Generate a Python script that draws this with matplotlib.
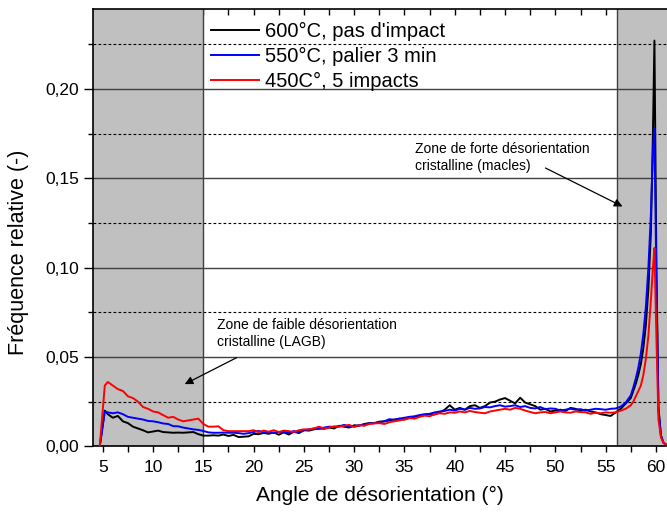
import numpy as np
import matplotlib
matplotlib.use("Agg")
import matplotlib.pyplot as plt
from matplotlib.ticker import MultipleLocator, FuncFormatter

plt.rcParams['font.family'] = ['Liberation Sans', 'DejaVu Sans']

# angle grid (deg): head, 0.5 deg body from 5.5 to 57.5, finer tail round the peak
angle_head = [4.7, 5.2]
angle_body = [5.5 + 0.5 * i for i in range(105)]
angle_tail = [57.75, 58.0, 58.25, 58.5, 58.75, 59.0, 59.25, 59.5, 59.7, 59.85,
              60.05, 60.25, 60.5, 60.75, 61.0]
angle = angle_head + angle_body + angle_tail

# 600°C, pas d'impact
freq_600 = [0.000, 0.020,
            0.018, 0.016, 0.017, 0.014, 0.013, 0.011, 0.010, 0.009, 0.0078, 0.0083,
            0.0088, 0.0080, 0.0078, 0.0076, 0.0077, 0.0076, 0.0078, 0.0080, 0.0068, 0.0060,
            0.0060, 0.0062, 0.0060, 0.0066, 0.0058, 0.0064, 0.0052, 0.0054, 0.0056, 0.0070,
            0.0068, 0.0075, 0.0070, 0.0078, 0.0065, 0.0078, 0.0066, 0.0082, 0.0074, 0.0090,
            0.0088, 0.0095, 0.0100, 0.0098, 0.0105, 0.0100, 0.0115, 0.0110, 0.0105, 0.0118,
            0.0115, 0.0125, 0.0130, 0.0130, 0.0138, 0.0140, 0.0145, 0.0150, 0.0155, 0.0150,
            0.0160, 0.0165, 0.0170, 0.0175, 0.0180, 0.0178, 0.0190, 0.0205, 0.0230, 0.0205,
            0.0215, 0.0205, 0.0225, 0.0230, 0.0215, 0.0225, 0.0245, 0.0250, 0.0262, 0.0270,
            0.0255, 0.0240, 0.0272, 0.0245, 0.0235, 0.0225, 0.0205, 0.0210, 0.0195, 0.0200,
            0.0205, 0.0198, 0.0215, 0.0210, 0.0200, 0.0205, 0.0195, 0.0190, 0.0180, 0.0175,
            0.0170, 0.0190, 0.0210, 0.0240, 0.0270,
            0.031, 0.035, 0.040, 0.046, 0.055, 0.068, 0.088, 0.120, 0.175, 0.227,
            0.100, 0.022, 0.006, 0.002, 0.001]

# 550°C, palier 3 min
freq_550 = [0.000, 0.0195,
            0.0190, 0.0185, 0.0190, 0.0180, 0.0165, 0.0160, 0.0155, 0.0150, 0.0142, 0.0140,
            0.0135, 0.0128, 0.0125, 0.0113, 0.0112, 0.0105, 0.0100, 0.0095, 0.0092, 0.0086,
            0.0078, 0.0076, 0.0076, 0.0077, 0.0076, 0.0076, 0.0074, 0.0070, 0.0074, 0.0080,
            0.0086, 0.0078, 0.0080, 0.0074, 0.0080, 0.0082, 0.0076, 0.0085, 0.0080, 0.0090,
            0.0095, 0.0100, 0.0098, 0.0105, 0.0110, 0.0108, 0.0112, 0.0120, 0.0110, 0.0112,
            0.0118, 0.0122, 0.0128, 0.0130, 0.0135, 0.0140, 0.0152, 0.0148, 0.0155, 0.0160,
            0.0165, 0.0168, 0.0175, 0.0180, 0.0182, 0.0190, 0.0195, 0.0198, 0.0205, 0.0200,
            0.0210, 0.0205, 0.0215, 0.0210, 0.0212, 0.0220, 0.0218, 0.0225, 0.0230, 0.0222,
            0.0225, 0.0230, 0.0220, 0.0225, 0.0215, 0.0212, 0.0220, 0.0208, 0.0212, 0.0210,
            0.0200, 0.0205, 0.0210, 0.0205, 0.0208, 0.0200, 0.0205, 0.0210, 0.0208, 0.0205,
            0.0210, 0.0212, 0.0222, 0.0245, 0.0285,
            0.033, 0.038, 0.044, 0.052, 0.063, 0.078, 0.100, 0.130, 0.165, 0.178,
            0.090, 0.020, 0.006, 0.002, 0.001]

# 450C°, 5 impacts
freq_450 = [0.000, 0.034,
            0.036, 0.034, 0.032, 0.031, 0.028, 0.027, 0.025, 0.022, 0.021, 0.0195,
            0.0190, 0.0175, 0.0160, 0.0165, 0.0150, 0.0140, 0.0145, 0.0150, 0.0155, 0.0125,
            0.0110, 0.0110, 0.0112, 0.0090, 0.0085, 0.0085, 0.0085, 0.0085, 0.0085, 0.0090,
            0.0080, 0.0088, 0.0082, 0.0090, 0.0080, 0.0088, 0.0085, 0.0080, 0.0090, 0.0095,
            0.0094, 0.0100, 0.0110, 0.0100, 0.0105, 0.0112, 0.0110, 0.0115, 0.0120, 0.0108,
            0.0118, 0.0115, 0.0125, 0.0128, 0.0130, 0.0125, 0.0135, 0.0140, 0.0145, 0.0150,
            0.0158, 0.0155, 0.0165, 0.0172, 0.0168, 0.0180, 0.0185, 0.0182, 0.0190, 0.0188,
            0.0195, 0.0190, 0.0198, 0.0192, 0.0188, 0.0185, 0.0195, 0.0200, 0.0205, 0.0210,
            0.0205, 0.0215, 0.0210, 0.0200, 0.0192, 0.0185, 0.0190, 0.0192, 0.0185, 0.0190,
            0.0195, 0.0190, 0.0188, 0.0195, 0.0192, 0.0190, 0.0182, 0.0188, 0.0185, 0.0190,
            0.0188, 0.0190, 0.0200, 0.0210, 0.0230,
            0.025, 0.028, 0.031, 0.034, 0.040, 0.049, 0.062, 0.082, 0.100, 0.111,
            0.060, 0.015, 0.005, 0.002, 0.001]

labels = ["600°C, pas d'impact", "550°C, palier 3 min", "450C°, 5 impacts"]
colors = ['black', 'blue', 'red']

fig = plt.figure(figsize=(6.67, 5.16), dpi=100)
ax = fig.add_axes([0.139, 0.135, 0.861, 0.847])

# shaded zones
ax.axvspan(4.0, 15.0, color='#c0c0c0', lw=0, zorder=1)
ax.axvspan(56.1, 61.1, color='#c0c0c0', lw=0, zorder=1)
ax.axvline(15.0, color='#404040', lw=1.0, zorder=1.6)
ax.axvline(56.1, color='#404040', lw=1.0, zorder=1.6)

for y, c, lab in zip([freq_600, freq_550, freq_450], colors, labels):
    ax.plot(angle, y, color=c, lw=1.4, label=lab, zorder=3)

ax.set_xlim(4.0, 61.1)
ax.set_ylim(0, 0.2445)

ax.xaxis.set_major_locator(MultipleLocator(5))
ax.xaxis.set_minor_locator(MultipleLocator(2.5))
ax.yaxis.set_major_locator(MultipleLocator(0.05))
ax.yaxis.set_minor_locator(MultipleLocator(0.025))
ax.yaxis.set_major_formatter(FuncFormatter(lambda v, p: f"{v:.2f}".replace('.', ',')))

ax.grid(True, which='major', axis='y', color='#404040', lw=1.0)
ax.grid(True, which='minor', axis='y', color='black', lw=0.8, ls=(0, (2.5, 2)))

ax.tick_params(axis='x', which='both', bottom=True, top=False, direction='out',
               length=4, width=1, labelsize=12.5, pad=6)
ax.tick_params(axis='y', which='major', direction='out', length=6.5, width=1,
               labelsize=12.5, pad=3.4)
ax.tick_params(axis='y', which='minor', direction='out', length=3.6, width=1)
ax.spines['right'].set_visible(False)
for s in ['left', 'bottom', 'top']:
    ax.spines[s].set_linewidth(1.2)

# top ticks pointing inward
top = ax.secondary_xaxis('top')
top.xaxis.set_major_locator(MultipleLocator(5))
top.xaxis.set_minor_locator(MultipleLocator(2.5))
top.tick_params(which='both', direction='in', length=4, width=1, labeltop=False)
top.spines['top'].set_visible(False)

ax.set_xlabel('Angle de désorientation (°)', fontsize=15, labelpad=8)
ax.set_ylabel('Fréquence relative (-)', fontsize=15.5)
ax.yaxis.set_label_coords(-0.111, 0.445)

leg = ax.legend(loc='upper left', bbox_to_anchor=(0.206, 0.972), frameon=False,
                fontsize=14.5, handlelength=2.4, handletextpad=0.3,
                labelspacing=0.3, borderpad=0, borderaxespad=0)

ax.text(16.4, 0.0717, 'Zone de faible désorientation\ncristalline (LAGB)',
        fontsize=10, va='top', ha='left', linespacing=1.3, zorder=4)
ax.annotate('', xy=(12.9, 0.0341), xytext=(18.55, 0.0503),
            arrowprops=dict(arrowstyle='-|>', color='black', lw=0.9, mutation_scale=12),
            zorder=4)
ax.text(36.0, 0.1702, 'Zone de forte désorientation\ncristalline (macles)',
        fontsize=10, va='top', ha='left', linespacing=1.3, zorder=4)
ax.annotate('', xy=(56.92, 0.1335), xytext=(48.77, 0.1564),
            arrowprops=dict(arrowstyle='-|>', color='black', lw=0.9, mutation_scale=12),
            zorder=4)

fig.savefig('out.png', dpi=100)
